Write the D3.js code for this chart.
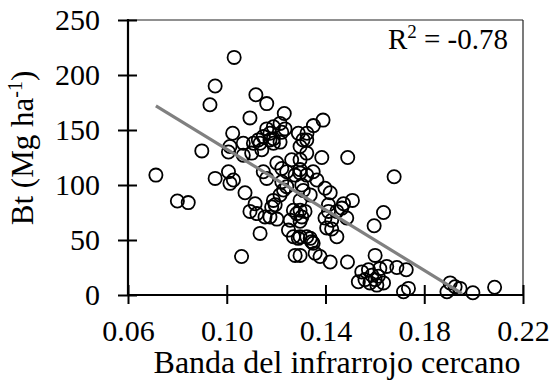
<!DOCTYPE html>
<html><head><meta charset="utf-8">
<script src="https://cdn.jsdelivr.net/npm/d3@7"></script>
<style>
html,body{margin:0;padding:0;background:#fff;}
svg text{font-family:"Liberation Serif","Times New Roman","DejaVu Serif",serif !important;fill:#000;}
</style></head>
<body><div id="chart"></div>
<script>
const xTicks = [0.06, 0.10, 0.14, 0.18, 0.22];
const yTicks = [0, 50, 100, 150, 200, 250];
const nirValues = [
0.1030,0.0953,0.1118,0.0932,0.1162,0.1233,0.1094,0.1351,0.1024,0.1290,0.1324,0.1297,
0.1162,0.1189,0.1216,0.1175,0.1148,0.1128,0.1108,0.1189,0.1223,0.1236,
0.0899,0.1007,0.1013,0.1067,
0.1390,0.1325,0.1309,0.1385,0.1490,
0.1297,0.1297,0.1324,0.1350,0.1678,0.1304,0.1310,0.1398,0.1419,0.1338,0.1509,0.1473,0.1466,0.1446,
0.1412,0.1412,0.1398,0.1425,0.1405,0.1425,0.1446,0.1486,0.1635,0.1597,0.1297,0.1297,0.1317,0.1304,0.1297,
0.1297,0.1338,0.1350,0.1358,0.1378,0.1419,0.1297,0.1489,0.1601,
0.1547,0.1574,0.1620,0.1648,0.1689,0.1727,0.1533,0.1560,0.1580,0.1601,0.1608,0.1635,0.1588,0.1614,0.1716,0.1736,
0.1892,0.1905,0.1925,0.1945,0.1997,0.2085,
0.0713,0.0800,0.0844,0.0953,0.1007,0.1013,0.1027,0.1074,0.1115,0.1094,0.1122,0.1155,0.1175,0.1203,
0.1189,0.1196,0.1182,0.1135,0.1060,0.1270,0.1284,0.1257,0.1250,0.1270,0.1290,0.1277,0.1324,0.1344,
0.1067,0.1101,0.1135,0.1142,0.1175,0.1189,0.1216,
0.1148,0.1162,0.1203,0.1223,0.1243,0.1263,0.1324,
0.1223,0.1243,0.1277,0.1297,0.1365,0.1216,0.1230
];
const biomassValues = [
216,190,182,173,174,165,161,154,147,147,141,135,
151,153,156,147,144,141,138,142,148,151,
131,130,135,138,
159,147,141,125,125,
123,111,109,112,107.5,100,95,97,93,91,86,83,79,76,
82,76,70,68,61,60,53,70,75,63,86,77,76,71,67,
53,51.5,47,38,35,30,36,30,36,
21,23,24,26,25,23,12,14,11,14,9,11,18,17,3,6,
3,11,7.5,6,2,7,
109,85.5,84,106,112,101.5,104.5,93,83,76,74,71,71,69,
86,82,80,56,35,77,74,68,59,53,51.5,36,53,48.5,
127,129,138,132,141,138,139,
112,106,120,115,112,123,129,
103,98.5,109,114,104.5,91,95.5
];
const trendX = [0.0713, 0.1952];
const trendY = [172, 1.5];
const xTitle = "Banda del infrarrojo cercano";
const rLabel = "-0.78";

const FONT = '"Liberation Serif","Times New Roman","DejaVu Serif",serif';
const W = 558, H = 380;
const m = {l:128, r:35, t:20, b:85};
const svg = d3.select("#chart").append("svg").attr("width",W).attr("height",H)
  .style("font-family",FONT);
const x = d3.scaleLinear().domain([0.06,0.22]).range([m.l, W-m.r]);
const y = d3.scaleLinear().domain([0,250]).range([H-m.b, m.t]);

// frame (top & right)
svg.append("line").attr("x1",m.l).attr("x2",W-m.r).attr("y1",m.t).attr("y2",m.t)
  .attr("stroke","#222").attr("stroke-width",1.2);
svg.append("line").attr("x1",W-m.r).attr("x2",W-m.r).attr("y1",m.t).attr("y2",H-m.b)
  .attr("stroke","#222").attr("stroke-width",1.2);

// points
const pts = nirValues.map((v,i)=>({x:v,y:biomassValues[i]}));
svg.append("g").selectAll("circle").data(pts).join("circle")
  .attr("cx",d=>x(d.x)).attr("cy",d=>y(d.y)).attr("r",6.6)
  .attr("fill","none").attr("stroke","#000").attr("stroke-width",1.8);

// trend line
svg.append("line")
  .attr("x1",x(trendX[0])).attr("y1",y(trendY[0]))
  .attr("x2",x(trendX[1])).attr("y2",y(trendY[1]))
  .attr("stroke","#808080").attr("stroke-width",3.2);

// axes
const fs = 30;
const xAxis = svg.append("g").attr("transform",`translate(0,${H-m.b})`)
  .call(d3.axisBottom(x).tickValues(xTicks).tickFormat(d3.format(".2f")).tickSize(0).tickPadding(0));
xAxis.attr("font-family",null).attr("font-size",null);
xAxis.select(".domain").remove();
xAxis.selectAll(".tick line").remove();
xAxis.selectAll(".tick").append("line").attr("y1",-10).attr("y2",9).attr("stroke","#000").attr("stroke-width",2);
xAxis.selectAll(".tick text").attr("y",46).attr("dy",null)
  .style("font-size",fs+"px").style("font-family",FONT);
svg.append("line").attr("x1",m.l-1).attr("x2",W-m.r+1).attr("y1",H-m.b).attr("y2",H-m.b)
  .attr("stroke","#000").attr("stroke-width",2.2);

const yAxis = svg.append("g").attr("transform",`translate(${m.l},0)`)
  .call(d3.axisLeft(y).tickValues(yTicks).tickSize(0).tickPadding(0));
yAxis.attr("font-family",null).attr("font-size",null);
yAxis.select(".domain").remove();
yAxis.selectAll(".tick line").remove();
yAxis.selectAll(".tick").append("line").attr("x1",-10).attr("x2",9).attr("stroke","#000").attr("stroke-width",2);
yAxis.selectAll(".tick text").attr("x",-28).attr("dy","0.32em")
  .style("font-size",fs+"px").style("font-family",FONT);
svg.append("line").attr("x1",m.l).attr("x2",m.l).attr("y1",m.t-1).attr("y2",H-m.b+1)
  .attr("stroke","#000").attr("stroke-width",2.2);

// titles
svg.append("text").attr("x",337).attr("y",373).attr("text-anchor","middle")
  .style("font-size","32px").style("font-family",FONT).text(xTitle);

const yt = svg.append("text").attr("transform","translate(33,148) rotate(-90)")
  .attr("text-anchor","middle").style("font-size","31px").style("font-family",FONT);
yt.append("tspan").text("Bt (Mg ha");
yt.append("tspan").attr("dy",-11).style("font-size","20px").text("-1");
yt.append("tspan").attr("dy",11).text(")");

const rt = svg.append("text").attr("x",508).attr("y",49).attr("text-anchor","end")
  .style("font-size","29px").style("font-family",FONT);
rt.append("tspan").text("R");
rt.append("tspan").attr("dy",-11).style("font-size","19px").text("2");
rt.append("tspan").attr("dy",11).text(" = " + rLabel);
</script></body></html>
